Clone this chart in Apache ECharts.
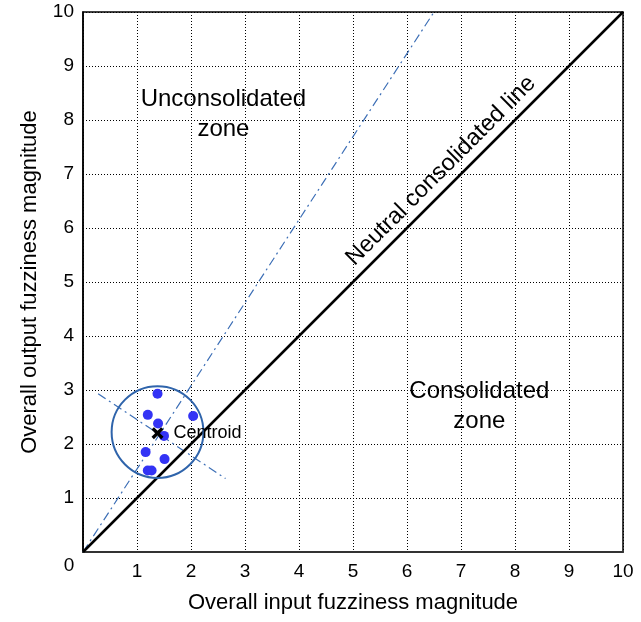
<!DOCTYPE html>
<html>
<head>
<meta charset="utf-8">
<script src="https://cdn.jsdelivr.net/npm/echarts@6/dist/echarts.min.js"></script>
<style>
html, body { margin: 0; padding: 0; background: #fff; }
#chart { width: 641px; height: 622px; }
</style>
</head>
<body>
<div id="chart"></div>
<script>
// data
var axisMin = 0;
var axisMax = 10;
var tickStep = 1;
var clusterPoints = [
	[1.38, 2.93], [1.20, 2.54], [2.04, 2.52], [1.39, 2.38], [1.50, 2.15],
	[1.16, 1.85], [1.51, 1.72], [1.20, 1.51], [1.27, 1.51]
];
var centroid = [1.38, 2.20];
var clusterCircle = [[1.38, 2.22, 0.85]]; // x, y, radius
var neutralLine = [[0, 0], [10, 10]];
var centroidRay = [[0, 0], [6.5, 10]];
var perpLine = [[0.28, 2.93], [2.64, 1.36]];
var zoneLabels = [
	{ value: [2.6, 8.1], text: 'Unconsolidated\nzone' },
	{ value: [7.34, 2.7], text: 'Consolidated\nzone' }
];
var lineLabel = { value: [6.63, 7.06], text: 'Neutral consolidated line' };

var fontName = '"Liberation Sans", Arial, sans-serif';
var dashDot = [9, 4, 2, 4];

var myChart = echarts.init(document.getElementById('chart'));
option = {
	backgroundColor: '#fff',
	animation: false,
	textStyle: { fontFamily: fontName },
	grid: {
		left: 83,
		top: 12,
		width: 540,
		height: 540,
		show: true,
		borderColor: '#000',
		borderWidth: 1.5
	},
	xAxis: {
		type: 'value',
		min: axisMin,
		max: axisMax,
		interval: tickStep,
		name: 'Overall input fuzziness magnitude',
		nameLocation: 'middle',
		nameGap: 40,
		nameTextStyle: { fontSize: 22, color: '#000', fontFamily: fontName },
		axisLine: { show: true, lineStyle: { color: '#333', width: 2 } },
		axisTick: { show: false },
		axisLabel: {
			fontSize: 19,
			color: '#000',
			margin: 10,
			fontFamily: fontName,
			formatter: function(v) { return v === 0 ? '' : v; }
		},
		splitLine: { show: true, lineStyle: { color: '#000', width: 1, type: [1, 2] } }
	},
	yAxis: {
		type: 'value',
		min: axisMin,
		max: axisMax,
		interval: tickStep,
		name: 'Overall output fuzziness magnitude',
		nameLocation: 'middle',
		nameGap: 42,
		nameTextStyle: { fontSize: 22, color: '#000', fontFamily: fontName },
		axisLine: { show: true, lineStyle: { color: '#000', width: 1.5 } },
		axisTick: { show: false },
		axisLabel: {
			fontSize: 19,
			color: '#000',
			margin: 9,
			fontFamily: fontName,
			formatter: function(v) { return v === 0 ? '' : v; }
		},
		splitLine: { show: true, lineStyle: { color: '#000', width: 1, type: [1, 2] } }
	},
	series: [
		{
			name: 'neutral',
			type: 'line',
			data: neutralLine,
			showSymbol: false,
			lineStyle: { color: '#000', width: 2.5 },
			z: 3
		},
		{
			name: 'ray',
			type: 'line',
			data: centroidRay,
			showSymbol: false,
			lineStyle: { color: '#3d6fb6', width: 1.2, type: dashDot },
			z: 2
		},
		{
			name: 'perp',
			type: 'line',
			data: perpLine,
			showSymbol: false,
			lineStyle: { color: '#3d6fb6', width: 1.2, type: dashDot },
			z: 2
		},
		{
			name: 'circle',
			type: 'custom',
			data: clusterCircle,
			renderItem: function(params, api) {
				var c = api.coord([api.value(0), api.value(1)]);
				var r = api.size([api.value(2), 0])[0];
				return {
					type: 'circle',
					shape: { cx: c[0], cy: c[1], r: r },
					style: { fill: 'none', stroke: '#2f64ab', lineWidth: 2 }
				};
			},
			z: 4
		},
		{
			name: 'points',
			type: 'scatter',
			data: clusterPoints,
			symbolSize: 10,
			itemStyle: { color: '#3333f5', opacity: 1 },
			z: 5
		},
		{
			name: 'centroid',
			type: 'scatter',
			data: [centroid],
			symbol: 'path://M2,0 L5,3 L8,0 L10,2 L7,5 L10,8 L8,10 L5,7 L2,10 L0,8 L3,5 L0,2 Z',
			symbolSize: 12,
			itemStyle: { color: '#000', opacity: 1 },
			label: {
				show: true,
				position: 'right',
				distance: 10,
				formatter: 'Centroid',
				fontSize: 18,
				color: '#000',
				fontFamily: fontName
			},
			z: 6
		},
		{
			name: 'zones',
			type: 'scatter',
			data: zoneLabels.map(function(d) { return { value: d.value, name: d.text }; }),
			symbolSize: 0,
			silent: true,
			itemStyle: { opacity: 1 },
			label: {
				show: true,
				position: 'inside',
				formatter: '{b}',
				fontSize: 24,
				lineHeight: 30,
				color: '#000',
				align: 'center',
				fontFamily: fontName
			},
			z: 7
		},
		{
			name: 'lineLabel',
			type: 'scatter',
			data: [{ value: lineLabel.value, name: lineLabel.text }],
			symbolSize: 0,
			silent: true,
			itemStyle: { opacity: 1 },
			label: {
				show: true,
				position: 'inside',
				formatter: '{b}',
				rotate: 45,
				fontSize: 23.5,
				color: '#000',
				fontFamily: fontName
			},
			z: 7
		},
		{
			name: 'origin',
			type: 'scatter',
			data: [[0, 0]],
			symbolSize: 0,
			silent: true,
			itemStyle: { opacity: 1 },
			label: {
				show: true,
				position: 'inside',
				offset: [-14, 14],
				formatter: '0',
				fontSize: 19,
				color: '#000',
				fontFamily: fontName
			},
			z: 7
		}
	]
};

myChart.setOption(option);
</script>
</body>
</html>
